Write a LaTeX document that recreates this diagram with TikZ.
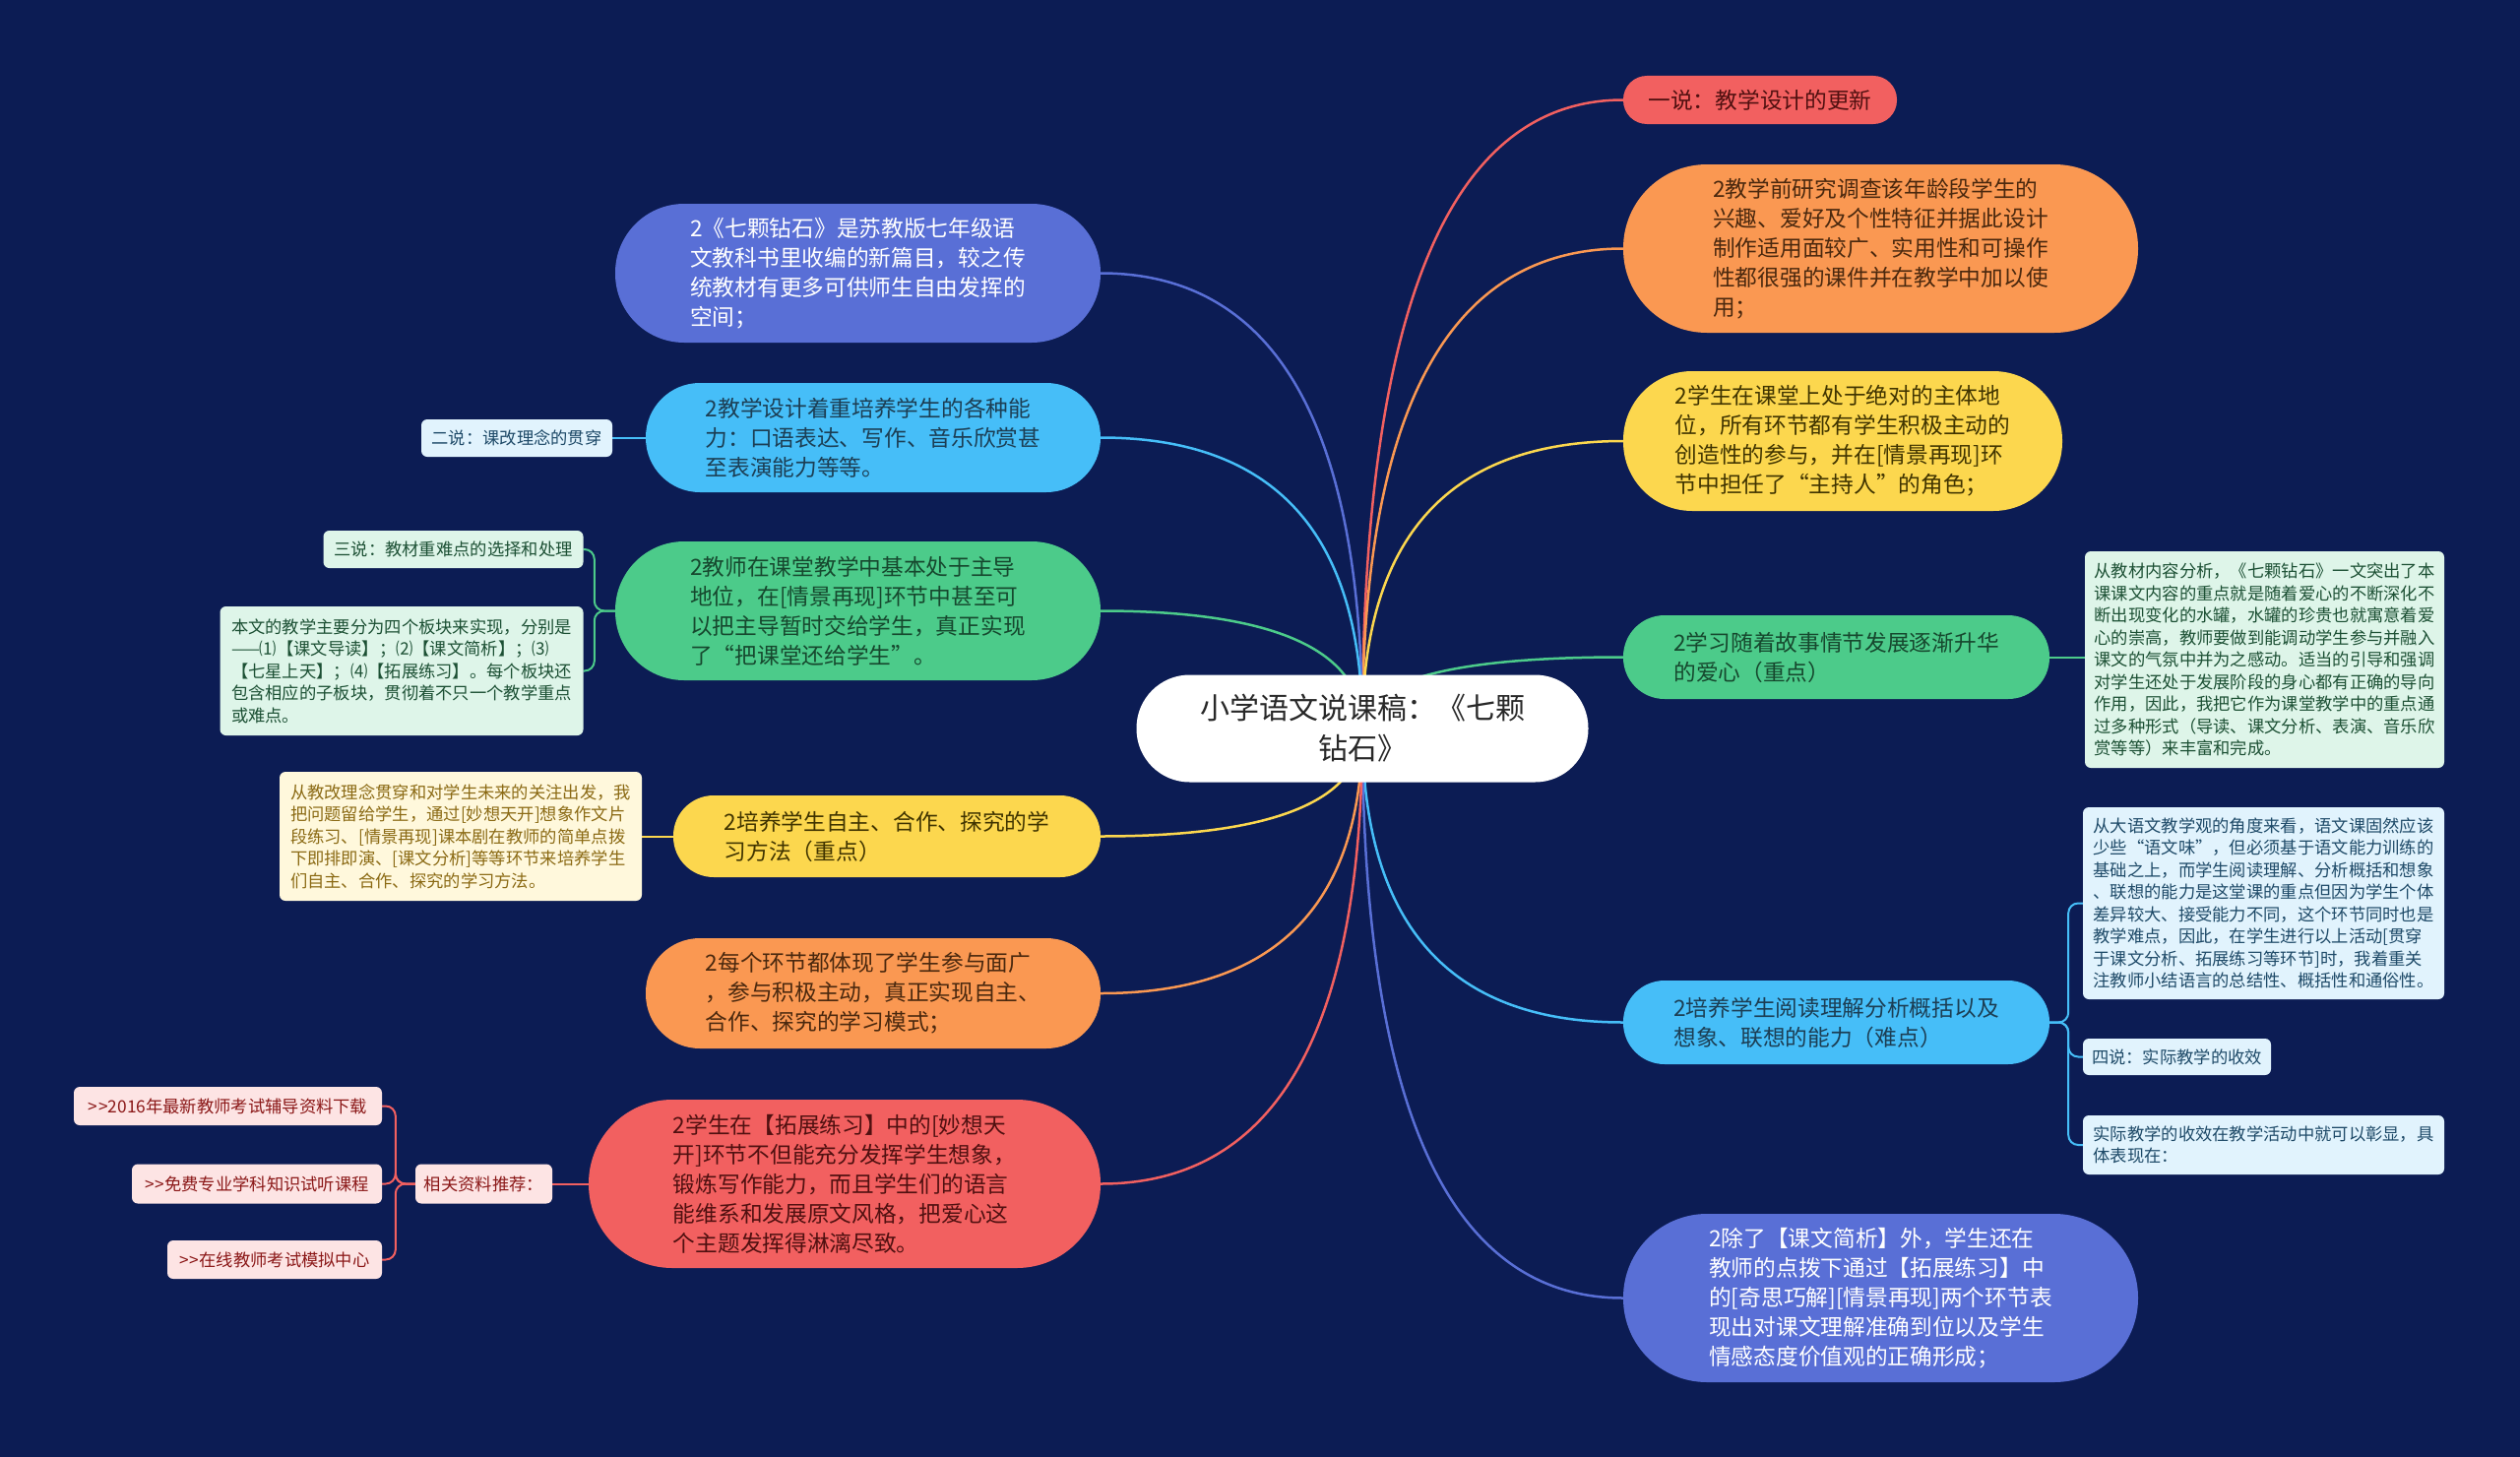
\documentclass[tikz,border=0pt]{standalone}
\usepackage{fontspec}
\setmainfont{Noto Sans CJK SC}
\usetikzlibrary{calc}
\definecolor{bgc}{RGB}{12,28,84}
\definecolor{cRed}{RGB}{242,96,96}
\definecolor{cOrange}{RGB}{250,152,82}
\definecolor{cYellow}{RGB}{252,215,78}
\definecolor{cGreen}{RGB}{76,203,138}
\definecolor{cBlue}{RGB}{70,190,248}
\definecolor{cViolet}{RGB}{89,111,214}
\definecolor{fBlue}{RGB}{225,243,253}
\definecolor{fGreen}{RGB}{222,245,233}
\definecolor{fYellow}{RGB}{255,248,220}
\definecolor{fRed}{RGB}{253,228,228}
\definecolor{tBlue}{RGB}{28,62,84}
\definecolor{tGreen}{RGB}{22,72,46}
\definecolor{tYellow}{RGB}{64,52,0}
\definecolor{tOrange}{RGB}{74,40,14}
\definecolor{tRed}{RGB}{80,16,16}
\definecolor{sBlue}{RGB}{30,74,104}
\definecolor{sGreen}{RGB}{28,80,52}
\definecolor{sYellow}{RGB}{139,106,20}
\definecolor{sRed}{RGB}{139,24,24}
\pgfdeclarelayer{back}
\pgfdeclarelayer{lines}
\pgfsetlayers{back,lines,main}
\tikzset{
  mainbox/.style={inner sep=0pt, align=left, font=\fontsize{22.7}{30}\selectfont},
  childbox/.style={inner sep=0pt, align=left, rounded corners=6pt, font=\fontsize{17.3}{22.5}\selectfont},
  branch/.style={line width=2.5pt},
  subline/.style={line width=2pt, rounded corners=10pt},
}
\newcommand\rbranch[2]{\draw[branch,#2] (root.center) .. controls ($(root.center)!0.667!(root.center |- #1.west)$) and ($(#1.west)!0.667!(root.center |- #1.west)$) .. (#1.west);}
\newcommand\lbranch[2]{\draw[branch,#2] (root.center) .. controls ($(root.center)!0.667!(root.center |- #1.east)$) and ($(#1.east)!0.667!(root.center |- #1.east)$) .. (#1.east);}
\newcommand\gtgt{>\kern1pt>}
\begin{document}
\begin{tikzpicture}[x=1pt,y=-1pt]
\begin{pgfonlayer}{back}
\fill[bgc] (0,0) rectangle (2560,1480);
\end{pgfonlayer}
\useasboundingbox (0,0) rectangle (2560,1480);

% root
\node[inner sep=0pt, align=center, fill=white, text={rgb,255:red,40;green,40;blue,40}, minimum width=459pt, minimum height=109pt, rounded corners=54pt, font=\fontsize{30}{41}\selectfont] (root) at (1384,740) {小学语文说课稿：《七颗\\钻石》};

% right side
\node[mainbox, fill=cRed, text=tRed, minimum width=278pt, minimum height=49pt, rounded corners=24pt] (R1) at (1788,101.5) {一说：教学设计的更新};
\node[mainbox, fill=cOrange, text=tOrange, minimum width=523pt, minimum height=171pt, rounded corners=85pt] (R2) at (1910.5,252.5) {2教学前研究调查该年龄段学生的\\兴趣、爱好及个性特征并据此设计\\制作适用面较广、实用性和可操作\\性都很强的课件并在教学中加以使\\用；};
\node[mainbox, fill=cYellow, text=tYellow, minimum width=446pt, minimum height=142pt, rounded corners=70pt] (R3) at (1872,448) {2学生在课堂上处于绝对的主体地\\位，所有环节都有学生积极主动的\\创造性的参与，并在[情景再现]环\\节中担任了“主持人”的角色；};
\node[mainbox, fill=cGreen, text=tGreen, minimum width=433pt, minimum height=85pt, rounded corners=42pt] (R4) at (1865.5,667.5) {2学习随着故事情节发展逐渐升华\\的爱心（重点）};
\node[childbox, fill=fGreen, text=sGreen, minimum width=365pt, minimum height=220pt] (R4c) at (2300.5,670) {从教材内容分析，《七颗钻石》一文突出了本\\课课文内容的重点就是随着爱心的不断深化不\\断出现变化的水罐，水罐的珍贵也就寓意着爱\\心的崇高，教师要做到能调动学生参与并融入\\课文的气氛中并为之感动。适当的引导和强调\\对学生还处于发展阶段的身心都有正确的导向\\作用，因此，我把它作为课堂教学中的重点通\\过多种形式（导读、课文分析、表演、音乐欣\\赏等等）来丰富和完成。};
\node[mainbox, fill=cBlue, text=tBlue, minimum width=433pt, minimum height=85pt, rounded corners=42pt] (R5) at (1865.5,1038.5) {2培养学生阅读理解分析概括以及\\想象、联想的能力（难点）};
\node[childbox, fill=fBlue, text=sBlue, minimum width=367pt, minimum height=195pt] (R5a) at (2299.5,917.5) {从大语文教学观的角度来看，语文课固然应该\\少些“语文味”，但必须基于语文能力训练的\\基础之上，而学生阅读理解、分析概括和想象\\、联想的能力是这堂课的重点但因为学生个体\\差异较大、接受能力不同，这个环节同时也是\\教学难点，因此，在学生进行以上活动[贯穿\\于课文分析、拓展练习等环节]时，我着重关\\注教师小结语言的总结性、概括性和通俗性。};
\node[childbox, fill=fBlue, text=sBlue, minimum width=191pt, minimum height=37pt] (R5b) at (2211.5,1073.5) {四说：实际教学的收效};
\node[childbox, fill=fBlue, text=sBlue, minimum width=367pt, minimum height=60pt] (R5c) at (2299.5,1163) {实际教学的收效在教学活动中就可以彰显，具\\体表现在：};
\node[mainbox, fill=cViolet, text=white, minimum width=523pt, minimum height=171pt, rounded corners=85pt] (R6) at (1910.5,1318.5) {2除了【课文简析】外，学生还在\\教师的点拨下通过【拓展练习】中\\的[奇思巧解][情景再现]两个环节表\\现出对课文理解准确到位以及学生\\情感态度价值观的正确形成；};

% left side
\node[mainbox, fill=cViolet, text=white, minimum width=493pt, minimum height=141pt, rounded corners=70pt] (L1) at (871.5,277.5) {2《七颗钻石》是苏教版七年级语\\文教科书里收编的新篇目，较之传\\统教材有更多可供师生自由发挥的\\空间；};
\node[mainbox, fill=cBlue, text=tBlue, minimum width=462pt, minimum height=111pt, rounded corners=55pt] (L2) at (887,444.5) {2教学设计着重培养学生的各种能\\力：口语表达、写作、音乐欣赏甚\\至表演能力等等。};
\node[childbox, fill=fBlue, text=sBlue, minimum width=194pt, minimum height=38pt] (L2c) at (525,445) {二说：课改理念的贯穿};
\node[mainbox, fill=cGreen, text=tGreen, minimum width=493pt, minimum height=141pt, rounded corners=70pt] (L3) at (871.5,620.5) {2教师在课堂教学中基本处于主导\\地位，在[情景再现]环节中甚至可\\以把主导暂时交给学生，真正实现\\了“把课堂还给学生”。};
\node[childbox, fill=fGreen, text=sGreen, minimum width=264pt, minimum height=38pt] (L3a) at (460.5,558) {三说：教材重难点的选择和处理};
\node[childbox, fill=fGreen, text=sGreen, minimum width=369pt, minimum height=131pt] (L3b) at (408,681.5) {本文的教学主要分为四个板块来实现，分别是\\——⑴【课文导读】；⑵【课文简析】；⑶\\【七星上天】；⑷【拓展练习】。每个板块还\\包含相应的子板块，贯彻着不只一个教学重点\\或难点。};
\node[mainbox, fill=cYellow, text=tYellow, minimum width=434pt, minimum height=83pt, rounded corners=41pt] (L4) at (901,849.5) {2培养学生自主、合作、探究的学\\习方法（重点）};
\node[childbox, fill=fYellow, text=sYellow, minimum width=368pt, minimum height=131pt] (L4c) at (468,849.5) {从教改理念贯穿和对学生未来的关注出发，我\\把问题留给学生，通过[妙想天开]想象作文片\\段练习、[情景再现]课本剧在教师的简单点拨\\下即排即演、[课文分析]等等环节来培养学生\\们自主、合作、探究的学习方法。};
\node[mainbox, fill=cOrange, text=tOrange, minimum width=462pt, minimum height=112pt, rounded corners=55pt] (L5) at (887,1009) {2每个环节都体现了学生参与面广\\，参与积极主动，真正实现自主、\\合作、探究的学习模式；};
\node[mainbox, fill=cRed, text=tRed, minimum width=520pt, minimum height=171pt, rounded corners=85pt] (L6) at (858,1202.5) {2学生在【拓展练习】中的[妙想天\\开]环节不但能充分发挥学生想象，\\锻炼写作能力，而且学生们的语言\\能维系和发展原文风格，把爱心这\\个主题发挥得淋漓尽致。};
\node[childbox, fill=fRed, text=sRed, minimum width=139pt, minimum height=40pt] (L6c) at (491.5,1202.5) {相关资料推荐：};
\node[childbox, fill=fRed, text=sRed, minimum width=313pt, minimum height=39pt] (L6a) at (231.5,1123.5) {\gtgt 2016年最新教师考试辅导资料下载};
\node[childbox, fill=fRed, text=sRed, minimum width=254pt, minimum height=40pt] (L6b) at (261,1202.5) {\gtgt 免费专业学科知识试听课程};
\node[childbox, fill=fRed, text=sRed, minimum width=218pt, minimum height=39pt] (L6d) at (279,1279.5) {\gtgt 在线教师考试模拟中心};

% connectors
\begin{pgfonlayer}{lines}
\rbranch{R1}{cRed}
\rbranch{R2}{cOrange}
\rbranch{R3}{cYellow}
\rbranch{R4}{cGreen}
\rbranch{R5}{cBlue}
\rbranch{R6}{cViolet}
\lbranch{L1}{cViolet}
\lbranch{L2}{cBlue}
\lbranch{L3}{cGreen}
\lbranch{L4}{cYellow}
\lbranch{L5}{cOrange}
\lbranch{L6}{cRed}
\draw[subline, cGreen] (R4.east) -- (R4.east -| R4c.west);
\draw[subline, cBlue] (R5.east) -- ($(R5.east)+(19,0)$) |- (R5a.west);
\draw[subline, cBlue] (R5.east) -- ($(R5.east)+(19,0)$) |- (R5b.west);
\draw[subline, cBlue] (R5.east) -- ($(R5.east)+(19,0)$) |- (R5c.west);
\draw[subline, cBlue] (L2.west) -- (L2.west -| L2c.east);
\draw[subline, cGreen] (L3.west) -- ($(L3.west)+(-21,0)$) |- (L3a.east);
\draw[subline, cGreen] (L3.west) -- ($(L3.west)+(-21,0)$) |- (L3b.east);
\draw[subline, cYellow] (L4.west) -- (L4.west -| L4c.east);
\draw[subline, cRed] (L6.west) -- (L6.west -| L6c.east);
\draw[subline, cRed] (L6c.west) -- ($(L6c.west)+(-20,0)$) |- (L6a.east);
\draw[subline, cRed] (L6c.west) -- ($(L6c.west)+(-20,0)$) |- (L6b.east);
\draw[subline, cRed] (L6c.west) -- ($(L6c.west)+(-20,0)$) |- (L6d.east);
\end{pgfonlayer}
\end{tikzpicture}
\end{document}
